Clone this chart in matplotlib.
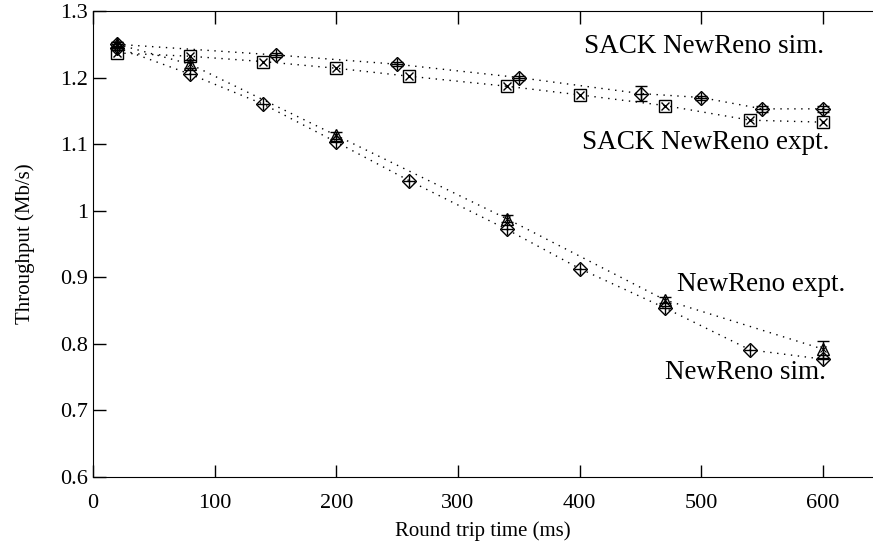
import matplotlib.pyplot as plt
import numpy as np

plt.rcParams['font.family'] = ['Liberation Serif', 'DejaVu Serif']

# SACK NewReno, simulation
sack_sim_x = [20, 150, 250, 350, 450, 500, 550, 600]
sack_sim_y = [1.250, 1.234, 1.220, 1.200, 1.176, 1.170, 1.153, 1.153]
sack_sim_err = [0.003, 0.003, 0.003, 0.003, 0.011, 0.003, 0.004, 0.004]

# SACK NewReno, experiment
sack_exp_x = [20, 80, 140, 200, 260, 340, 400, 470, 540, 600]
sack_exp_y = [1.237, 1.232, 1.224, 1.214, 1.202, 1.187, 1.174, 1.158, 1.136, 1.133]

# NewReno, experiment
nr_exp_x = [20, 80, 200, 340, 470, 600]
nr_exp_y = [1.250, 1.220, 1.113, 0.988, 0.866, 0.792]
nr_exp_err = [0.004, 0.006, 0.005, 0.005, 0.005, 0.013]

# NewReno, simulation
nr_sim_x = [20, 80, 140, 200, 260, 340, 400, 470, 540, 600]
nr_sim_y = [1.245, 1.205, 1.160, 1.103, 1.045, 0.972, 0.913, 0.854, 0.791, 0.777]

fig = plt.figure(figsize=(8.73, 5.44), dpi=100)
ax = fig.add_axes([93/873, 67/544, 1 - 93/873, (477 - 11)/544])

ms = 8
lk = dict(color='black', linestyle=(0, (1, 4)), linewidth=1.0)

ax.plot(sack_sim_x, sack_sim_y, **lk)
ax.plot(sack_exp_x, sack_exp_y, **lk)
ax.plot(nr_exp_x, nr_exp_y, **lk)
ax.plot(nr_sim_x, nr_sim_y, **lk)

# markers
ax.errorbar(sack_sim_x, sack_sim_y, yerr=sack_sim_err, fmt='D', mfc='none', mec='black',
            ms=ms*0.9, ecolor='black', elinewidth=1, capsize=4, mew=1)
ax.plot(sack_sim_x, sack_sim_y, '+', color='black', ms=ms*1.1, mew=1)

ax.plot(sack_exp_x, sack_exp_y, 's', mfc='none', mec='black', ms=ms, mew=1)
ax.plot(sack_exp_x, sack_exp_y, 'x', color='black', ms=ms*0.8, mew=1)

ax.errorbar(nr_exp_x, nr_exp_y, yerr=nr_exp_err, fmt='^', mfc='none', mec='black',
            ms=ms*1.1, ecolor='black', elinewidth=1, capsize=4, mew=1)
ax.plot(nr_exp_x, nr_exp_y, 'x', color='black', ms=ms*0.6, mew=0.8)

ax.plot(nr_sim_x, nr_sim_y, 'D', mfc='none', mec='black', ms=ms*0.9, mew=1)
ax.plot(nr_sim_x, nr_sim_y, '+', color='black', ms=ms*1.1, mew=1)

ax.text(601, 1.246, "SACK NewReno sim.", ha='right', va='center', fontsize=19.5)
ax.text(605, 1.102, "SACK NewReno expt.", ha='right', va='center', fontsize=19.5)
ax.text(618, 0.889, "NewReno expt.", ha='right', va='center', fontsize=19.5)
ax.text(602, 0.757, "NewReno sim.", ha='right', va='center', fontsize=19.5)

ax.set_xlim(0, 641)
ax.set_ylim(0.6, 1.3)
ax.set_xticks(np.arange(0, 601, 100))
ax.set_yticks(np.round(np.arange(0.6, 1.31, 0.1), 1))
ax.set_yticklabels(['0.6', '0.7', '0.8', '0.9', '1', '1.1', '1.2', '1.3'])
ax.tick_params(direction='in', length=9, labelsize=16, top=True, right=False, width=1)
ax.tick_params(axis='x', pad=12)
ax.spines['right'].set_visible(False)
ax.set_xlabel("Round trip time (ms)", fontsize=15, labelpad=6)
ax.set_ylabel("Throughput (Mb/s)", fontsize=15, labelpad=18)

plt.savefig("out.png", dpi=100)
